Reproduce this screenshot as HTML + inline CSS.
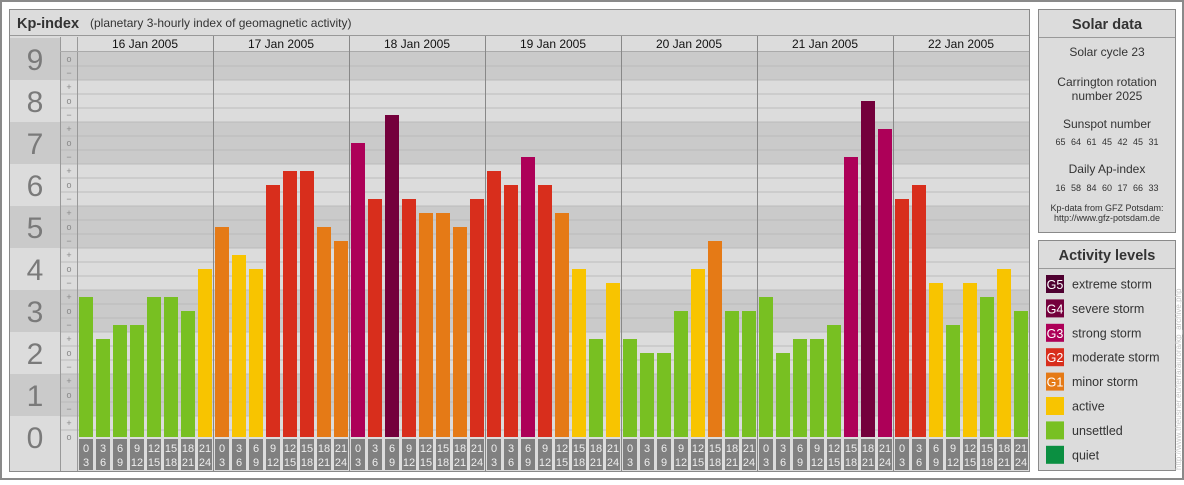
<!DOCTYPE html>
<html><head><meta charset="utf-8"><style>
html,body{margin:0;padding:0;background:#fff;}
body{width:1184px;height:480px;overflow:hidden;font-family:"Liberation Sans",sans-serif;}
</style></head><body>
<svg width="1184" height="480" xmlns="http://www.w3.org/2000/svg" font-family="Liberation Sans, sans-serif" id="root">
<rect x="1" y="1" width="1182" height="478" fill="#fff" stroke="#8a8a8a" stroke-width="2"/>
<rect x="9.5" y="9.5" width="1020" height="462" fill="#dcdcdc" stroke="#8a8a8a"/>
<g>
<line x1="10" y1="35.5" x2="1029" y2="35.5" stroke="#999"/>
<text x="17" y="28" font-size="14.5" font-weight="bold" fill="#333">Kp-index</text>
<text x="90" y="27" font-size="12" fill="#333">(planetary 3-hourly index of geomagnetic activity)</text>
</g>
<g id="bands"></g>
<g id="grid"></g>
<g id="bars"></g>
<g id="labels"></g>
<g>
<rect x="1038.5" y="9.5" width="137" height="223" fill="#dcdcdc" stroke="#8a8a8a"/>
<line x1="1039" y1="37.5" x2="1175" y2="37.5" stroke="#999"/>
<text x="1107" y="29" font-size="14.5" font-weight="bold" fill="#333" text-anchor="middle">Solar data</text>
<g font-size="12" fill="#333" text-anchor="middle">
<text x="1107" y="56">Solar cycle 23</text>
<text x="1107" y="86">Carrington rotation</text>
<text x="1107" y="100">number 2025</text>
<text x="1107" y="128">Sunspot number</text>
<text x="1107" y="173">Daily Ap-index</text>
</g>
<g font-size="9" fill="#333" text-anchor="middle">
<text x="1107" y="145" word-spacing="3">65 64 61 45 42 45 31</text>
<text x="1107" y="191" word-spacing="3">16 58 84 60 17 66 33</text>
<text x="1107" y="211">Kp-data from GFZ Potsdam:</text>
<text x="1107" y="221">http://www.gfz-potsdam.de</text>
</g>
</g>
<g id="legend">
<rect x="1038.5" y="240.5" width="137" height="230" fill="#dcdcdc" stroke="#8a8a8a"/>
<line x1="1039" y1="268.5" x2="1175" y2="268.5" stroke="#999"/>
<text x="1107" y="260" font-size="14.5" font-weight="bold" fill="#333" text-anchor="middle">Activity levels</text>
</g>
<text transform="translate(1181,470) rotate(-90)" font-size="8" fill="#c8c8c8">http://www.theusner.eu/terra/aurora/kp_archive.php</text>
</svg>
<script>
const days = ["16 Jan 2005","17 Jan 2005","18 Jan 2005","19 Jan 2005","20 Jan 2005","21 Jan 2005","22 Jan 2005"];
const kpThirds = [
 10,7,8,8,10,10,9,12,
 15,13,12,18,19,19,15,14,
 21,17,23,17,16,16,15,17,
 19,18,20,18,16,12,7,11,
 7,6,6,9,12,14,9,9,
 10,6,7,7,8,20,24,22,
 17,18,11,8,11,10,12,9
];
const hourStarts = ["0","3","6","9","12","15","18","21"];
const hourEnds = ["3","6","9","12","15","18","21","24"];
const levelNames = ["extreme storm","severe storm","strong storm","moderate storm","minor storm","active","unsettled","quiet"];
const levelCodes = ["G5","G4","G3","G2","G1","","",""];
const levelColors = ["#4e0030","#74003c","#ad0058","#d82e1c","#e57a16","#f8c400","#78c022","#0b8f41"];
const levelMin = [26,23,20,17,14,11,6,0];

const NS="http://www.w3.org/2000/svg";
const X0=77, SLOT=17, Y0=437, THIRD=14, PTOP=51;
const yS=v=>Y0-v*THIRD;
const xS=i=>X0+i*SLOT;
const X1=X0+kpThirds.length*SLOT;
function mk(tag,attrs,parent,txt){const e=document.createElementNS(NS,tag);for(const k in attrs)e.setAttribute(k,attrs[k]);if(txt!==undefined)e.textContent=txt;parent.appendChild(e);return e;}
const bands=document.getElementById('bands'),grid=document.getElementById('grid'),barsG=document.getElementById('bars'),labs=document.getElementById('labels');
// bands
for(let n=0;n<=9;n++){
 const top=yS(3*n+1.5), bot=yS(3*n-1.5);
 const col=(n%2===1)?"#cacaca":"#dcdcdc";
 const lt=Math.max(top,37), lb=Math.min(bot,471);
 const r1=mk('rect',{x:10,y:lt,width:50,height:lb-lt,fill:col},bands);
 
 
 const pt=Math.max(top,PTOP), pb=Math.min(bot,Y0);
 if(pb>pt){const r2=mk('rect',{x:60,y:pt,width:X1-60,height:pb-pt,fill:col},bands);
 
 }
 const t=mk('text',{x:35,y:yS(3*n)+11,'font-size':30,fill:'#7a7a7a','text-anchor':'middle'},labs,String(n));
 
 
}
// gridlines & symbols
for(let v=0;v<=27;v++){
 if(v>0){const l=mk('line',{x1:60,x2:X1,y1:yS(v-0.5),y2:yS(v-0.5),stroke:'#bbb'},grid);
 
 }
 const s=["o","+","−"][v%3];
 const t=mk('text',{x:69,y:yS(v)+3,'font-size':9,fill:'#888','text-anchor':'middle'},labs,s);
 
 
}
mk('line',{x1:60.5,x2:60.5,y1:37,y2:471,stroke:'#999'},grid);
mk('line',{x1:77.5,x2:77.5,y1:37,y2:471,stroke:'#999'},grid);
// header
const hdr=mk('rect',{x:78,y:36,width:X1-78,height:15,fill:'#dcdcdc'},grid);


mk('line',{x1:60,x2:X1,y1:51.5,y2:51.5,stroke:'#aaa'},grid);
days.forEach((d,i)=>{
 const x=X0+i*8*SLOT;
 const t=mk('text',{x:x+4*SLOT,y:48,'font-size':12,fill:'#111','text-anchor':'middle'},labs,d);
 
 
 if(i>0){const l=mk('line',{x1:x+0.5,x2:x+0.5,y1:36,y2:471,stroke:'#888'},labs);
 
 }
});
function colorFor(v){for(let k=0;k<levelMin.length;k++)if(v>=levelMin[k])return levelColors[k];return levelColors[7];}
kpThirds.forEach((v,i)=>{
 const x=xS(i)+2;
 const b=mk('rect',{x:x,y:yS(v),width:14,height:Y0-yS(v),fill:colorFor(v)},barsG);
 
 
 const bx=mk('rect',{x:x,y:439,width:14,height:31,fill:'#808080'},barsG);
 
 
 const h=i%8;
 const t1=mk('text',{x:x+7,y:452,'font-size':11,fill:'#eee','text-anchor':'middle'},barsG,hourStarts[h]);
 
 
 const t2=mk('text',{x:x+7,y:466,'font-size':11,fill:'#eee','text-anchor':'middle'},barsG,hourEnds[h]);
 
 
});
const lg=document.getElementById('legend');
levelNames.forEach((n,i)=>{
 const y=275+i*24.4;
 const s=mk('rect',{x:1046,y:y,width:18,height:18,fill:levelColors[i]},lg);
 
 
 if(levelCodes[i]){const c=mk('text',{x:1055,y:y+14,'font-size':12.5,fill:'#fff','text-anchor':'middle'},lg,levelCodes[i]);
 
 }
 const t=mk('text',{x:1072,y:y+13.5,'font-size':12.5,fill:'#333'},lg,n);
 
 
});
</script>
</body></html>
